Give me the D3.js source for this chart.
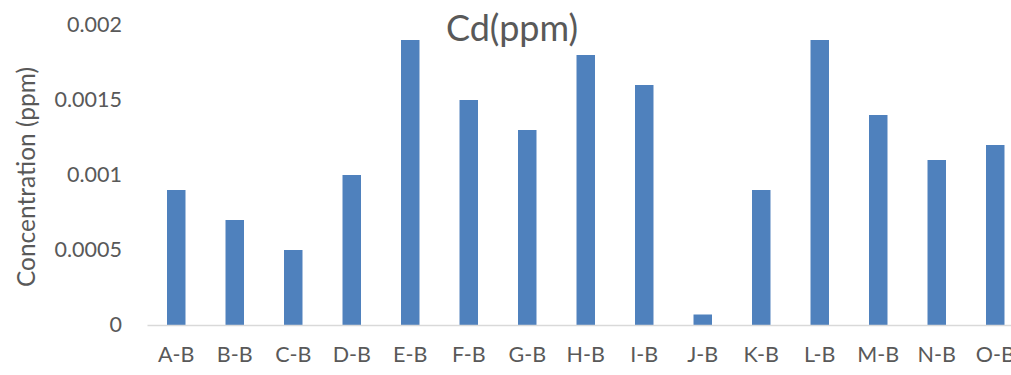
<!DOCTYPE html>
<html>
<head>
<meta charset="utf-8">
<script src="https://cdn.jsdelivr.net/npm/d3@7"></script>
<style>
html,body{margin:0;padding:0;background:#fff;}
svg{display:block;}
</style>
</head>
<body>
<div id="chart"></div>
<script>
const categories = ["A-B","B-B","C-B","D-B","E-B","F-B","G-B","H-B","I-B","J-B","K-B","L-B","M-B","N-B","O-B"];
const values = [0.0009,0.0007,0.0005,0.001,0.0019,0.0015,0.0013,0.0018,0.0016,0.00007,0.0009,0.0019,0.0014,0.0011,0.0012];
const yTicks = [0,0.0005,0.001,0.0015,0.002];
const yTickLabels = ["0","0.0005","0.001","0.0015","0.002"];
const title = "Cd(ppm)";
const yTitle = "Concentration (ppm)";

const W = 1011, H = 375;
const font = "Lato, 'Open Sans', sans-serif";
const txt = "#595959";

const svg = d3.select("#chart").append("svg").attr("width", W).attr("height", H);

const x = d3.scaleBand().domain(categories).range([147, 1024.5]).paddingInner(0.684).paddingOuter(0.342);
const y = d3.scaleLinear().domain([0, 0.002]).range([325, 25]);

// bars
svg.append("g").selectAll("rect").data(values).join("rect")
  .attr("x", (d,i) => x(categories[i]))
  .attr("y", d => y(d))
  .attr("width", x.bandwidth())
  .attr("height", d => y(0) - y(d))
  .attr("fill", "#4f81bd");

// x axis
const xAxis = svg.append("g").attr("transform", `translate(0,${y(0)})`)
  .call(d3.axisBottom(x).tickSize(0).tickPadding(22));
xAxis.select(".domain").attr("stroke", "#d9d9d9").attr("stroke-width", 1.5);
xAxis.selectAll("text").attr("font-family", font).attr("font-size", 21.5).attr("fill", txt);

// y axis (labels only)
const yAxis = svg.append("g").attr("transform", `translate(147,0)`)
  .call(d3.axisLeft(y).tickValues(yTicks).tickFormat((d,i) => yTickLabels[i]).tickSize(0).tickPadding(25));
yAxis.select(".domain").remove();
yAxis.selectAll("text").attr("font-family", font).attr("font-size", 21.5).attr("fill", txt);

// title
svg.append("text").attr("x", 512).attr("y", 41).attr("text-anchor", "middle")
  .attr("font-family", font).attr("font-size", 36).attr("fill", txt).text(title);

// y title
svg.append("text").attr("transform", `translate(35,177) rotate(-90)`).attr("text-anchor", "middle")
  .attr("font-family", font).attr("font-size", 24.5).attr("fill", txt).text(yTitle);
</script>
</body>
</html>
